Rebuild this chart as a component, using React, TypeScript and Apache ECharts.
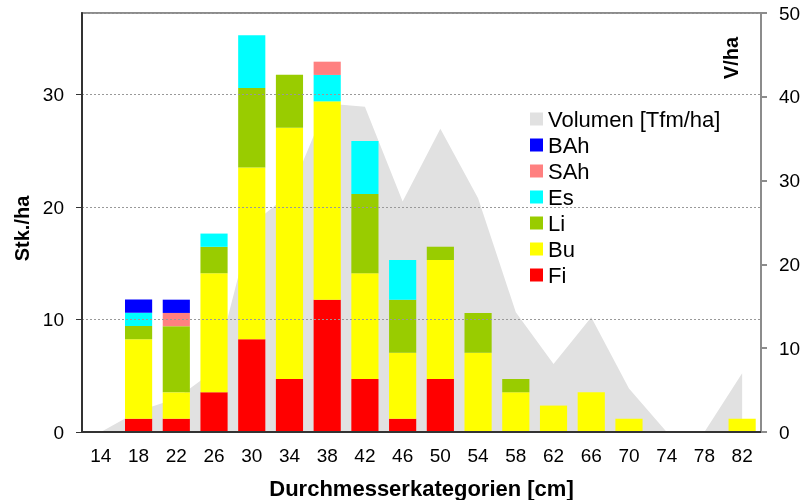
import React, { useEffect, useRef } from 'react';
import * as echarts from 'echarts';

const categories = ['14', '18', '22', '26', '30', '34', '38', '42', '46', '50', '54', '58', '62', '66', '70', '74', '78', '82'];
const fi = [0, 1.18, 1.18, 3.53, 8.24, 4.71, 11.76, 4.71, 1.18, 4.71, 0, 0, 0, 0, 0, 0, 0, 0];
const bu = [0, 7.06, 2.35, 10.59, 15.29, 22.35, 17.65, 9.41, 5.88, 10.59, 7.06, 3.53, 2.35, 3.53, 1.18, 0, 0, 1.18];
const li = [0, 1.18, 5.88, 2.35, 7.06, 4.71, 0, 7.06, 4.71, 1.18, 3.53, 1.18, 0, 0, 0, 0, 0, 0];
const es = [0, 1.18, 0, 1.18, 4.71, 0, 2.35, 4.71, 3.53, 0, 0, 0, 0, 0, 0, 0, 0, 0];
const sah = [0, 0, 1.18, 0, 0, 0, 1.18, 0, 0, 0, 0, 0, 0, 0, 0, 0, 0, 0];
const bah = [0, 1.18, 1.18, 0, 0, 0, 0, 0, 0, 0, 0, 0, 0, 0, 0, 0, 0, 0];
const volumen = [0, 2.5, 4, 7.3, 24.8, 28.4, 39.2, 38.8, 27.5, 36.2, 27.9, 14.3, 8.1, 13.7, 5.2, 0, 0, 7.0];

const narrow = '"Liberation Sans Narrow", "Arial Narrow", "Liberation Sans", Arial, sans-serif';
const sans = '"Liberation Sans", Arial, sans-serif';

export default function App() {
  const ref = useRef<HTMLDivElement>(null);
  useEffect(() => {
    const chart = echarts.init(ref.current as HTMLDivElement, null, { renderer: 'svg' });
    const bars: [string, number[], string][] = [
      ['Fi', fi, '#ff0000'],
      ['Bu', bu, '#ffff00'],
      ['Li', li, '#99cc00'],
      ['Es', es, '#00ffff'],
      ['SAh', sah, '#ff8080'],
      ['BAh', bah, '#0000ff'],
    ];
    const barSeries = bars.map(([name, data, color]) => ({
      name,
      type: 'bar',
      stack: 'stk',
      data,
      barWidth: '72%',
      itemStyle: { color },
      z: 3,
    }));
    chart.setOption({
      animation: false,
      grid: {
        left: 82, right: 41, top: 13, bottom: 68,
        outerBoundsMode: 'none',
        containLabel: false,
        show: true, borderColor: '#8c8c8c', borderWidth: 2, backgroundColor: 'transparent',
      },
      legend: {
        orient: 'vertical',
        left: 530,
        top: 106,
        padding: 0,
        itemWidth: 13,
        itemHeight: 13,
        itemGap: 0,
        icon: 'rect',
        data: ['Volumen [Tfm/ha]', 'BAh', 'SAh', 'Es', 'Li', 'Bu', 'Fi'],
        textStyle: { fontFamily: sans, fontSize: 22, color: '#000', lineHeight: 26 },
      },
      graphic: [
        {
          type: 'text',
          x: 731,
          y: 58,
          rotation: Math.PI / 2,
          style: { text: 'V/ha', font: 'bold 20px "Liberation Sans", Arial, sans-serif', fill: '#000', align: 'center', verticalAlign: 'middle' },
        },
      ],
      xAxis: {
        type: 'category',
        data: categories,
        boundaryGap: true,
        z: 10,
        axisLine: { lineStyle: { color: '#333', width: 2 } },
        axisTick: { length: 6, lineStyle: { color: '#333', width: 1 } },
        axisLabel: { color: '#000', fontFamily: narrow, fontSize: 19, margin: 14, interval: 0 },
        name: 'Durchmesserkategorien [cm]',
        nameLocation: 'middle',
        nameGap: 45,
        nameTextStyle: { fontFamily: sans, fontWeight: 'bold', fontSize: 22, color: '#000' },
      },
      yAxis: [
        {
          type: 'value',
          min: 0,
          max: 37.27,
          interval: 10,
          position: 'left',
          z: 10,
          axisLine: { show: true, lineStyle: { color: '#333', width: 2 } },
          axisTick: { show: true, length: 6, lineStyle: { color: '#333' } },
          axisLabel: { color: '#000', fontFamily: narrow, fontSize: 19, margin: 18, showMaxLabel: false },
          splitLine: { show: true, lineStyle: { color: '#999', type: [2, 2], width: 1 } },
          name: 'Stk./ha',
          nameLocation: 'middle',
          nameGap: 50,
          nameRotate: 90,
          nameTextStyle: { fontFamily: sans, fontWeight: 'bold', fontSize: 20, color: '#000', padding: [0, 12, 0, 0] },
        },
        {
          type: 'value',
          min: 0,
          max: 50,
          interval: 10,
          position: 'right',
          z: 10,
          axisLine: { show: true, lineStyle: { color: '#8c8c8c', width: 2 } },
          axisTick: { show: true, length: 6, lineStyle: { color: '#8c8c8c', width: 2 } },
          axisLabel: { color: '#000', fontFamily: narrow, fontSize: 19, margin: 18 },
          splitLine: { show: false },
        },
      ],
      series: [
        {
          name: 'Volumen [Tfm/ha]',
          type: 'line',
          yAxisIndex: 1,
          data: volumen,
          symbol: 'none',
          lineStyle: { width: 0, opacity: 0 },
          itemStyle: { color: '#e1e1e1' },
          areaStyle: { color: '#e1e1e1', opacity: 1 },
          z: 1,
        },
        ...barSeries,
      ],
    });
    return () => chart.dispose();
  }, []);
  return <div ref={ref} style={{ position: 'fixed', left: 0, top: 0, width: 802, height: 500 }} />;
}
